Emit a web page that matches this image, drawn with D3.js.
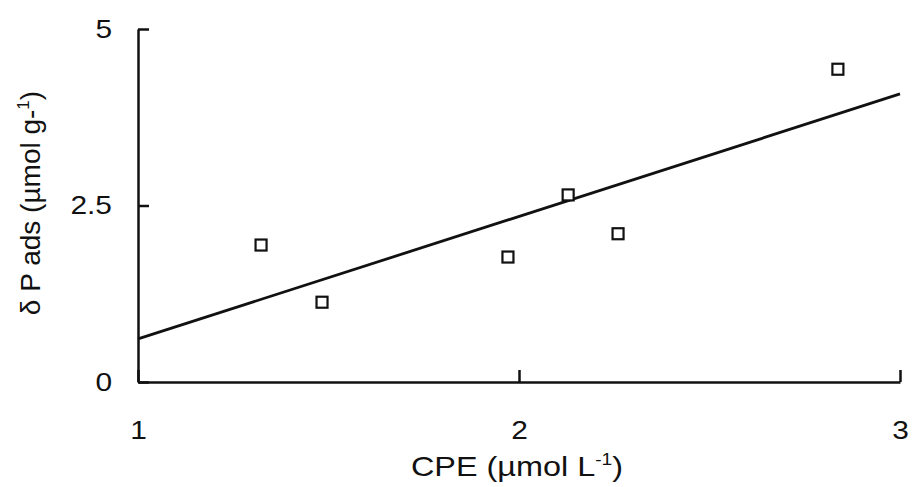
<!DOCTYPE html>
<html>
<head>
<meta charset="utf-8">
<script src="https://cdn.jsdelivr.net/npm/d3@7"></script>
<style>
  body { margin: 0; background: #fff; }
  text { font-family: "Liberation Sans", Arial, sans-serif; fill: #111; }
</style>
</head>
<body>
<div id="chart"></div>
<script>
// data
const cpe = [1.323, 1.483, 1.971, 2.129, 2.260, 2.837];
const pAds = [1.94, 1.13, 1.77, 2.65, 2.10, 4.43];
// fitted line end points
const fitX = [1, 3];
const fitY = [0.61, 4.08];
const xTicks = [1, 2, 3];
const yTicks = [0, 2.5, 5];

const W = 912, H = 487;
const margin = { top: 29, right: 12, bottom: 105, left: 138 };
const width = 900 - margin.left;
const height = 382 - margin.top;
const sx = 1.15; // labels look stretched sideways

const svg = d3.select("#chart")
  .append("svg")
  .attr("width", W)
  .attr("height", H);

const g = svg.append("g")
  .attr("transform", `translate(${margin.left},${margin.top})`);

const x = d3.scaleLinear().domain([1, 3]).range([0, width]);
const y = d3.scaleLinear().domain([0, 5]).range([height, 0]);

// x axis
const xAxis = g.append("g")
  .attr("transform", `translate(0,${height})`)
  .call(d3.axisBottom(x).tickValues(xTicks).tickFormat(d3.format("d"))
    .tickSizeInner(-12).tickSizeOuter(0).tickPadding(39));

// y axis
const yAxis = g.append("g")
  .call(d3.axisLeft(y).tickValues(yTicks).tickFormat(d => d)
    .tickSizeInner(-11).tickSizeOuter(0).tickPadding(26));

[xAxis, yAxis].forEach(a => {
  a.select(".domain").attr("stroke", "#111").attr("stroke-width", 2.5);
  a.selectAll(".tick line").attr("stroke", "#111").attr("stroke-width", 2.5);
  a.selectAll(".tick text")
    .style("font-size", "26px")
    .attr("fill", "#111");
});
yAxis.selectAll(".tick text")
  .attr("x", -26 / sx)
  .attr("transform", `scale(${sx},1)`);
xAxis.selectAll(".tick text")
  .attr("transform", `scale(${sx},1)`);

// regression line
const fit = fitX.map((d, i) => [d, fitY[i]]);
g.append("path")
  .datum(fit)
  .attr("fill", "none")
  .attr("stroke", "#111")
  .attr("stroke-width", 2.8)
  .attr("d", d3.line().x(d => x(d[0])).y(d => y(d[1])));

// points
const pts = cpe.map((d, i) => ({ cpe: d, p: pAds[i] }));
const s = 11;
g.selectAll(".pt")
  .data(pts)
  .enter()
  .append("rect")
  .attr("class", "pt")
  .attr("x", d => x(d.cpe) - s / 2)
  .attr("y", d => y(d.p) - s / 2)
  .attr("width", s)
  .attr("height", s)
  .attr("fill", "#fff")
  .attr("stroke", "#111")
  .attr("stroke-width", 2.2);

// x title
const xt = svg.append("text")
  .attr("transform", `translate(517,476) scale(1.2,1)`)
  .attr("text-anchor", "middle")
  .style("font-size", "27px");
xt.append("tspan").text("CPE (µmol L");
xt.append("tspan").attr("dy", -11).style("font-size", "16px").text("-1");
xt.append("tspan").attr("dy", 11).text(")");

// y title
const yt = svg.append("text")
  .attr("transform", `translate(40,203) rotate(-90)`)
  .attr("text-anchor", "middle")
  .style("font-size", "28px");
yt.append("tspan").text("δ P ads (µmol g-");
yt.append("tspan").attr("dy", -11).style("font-size", "17px").text("1");
yt.append("tspan").attr("dy", 11).text(")");
</script>
</body>
</html>
